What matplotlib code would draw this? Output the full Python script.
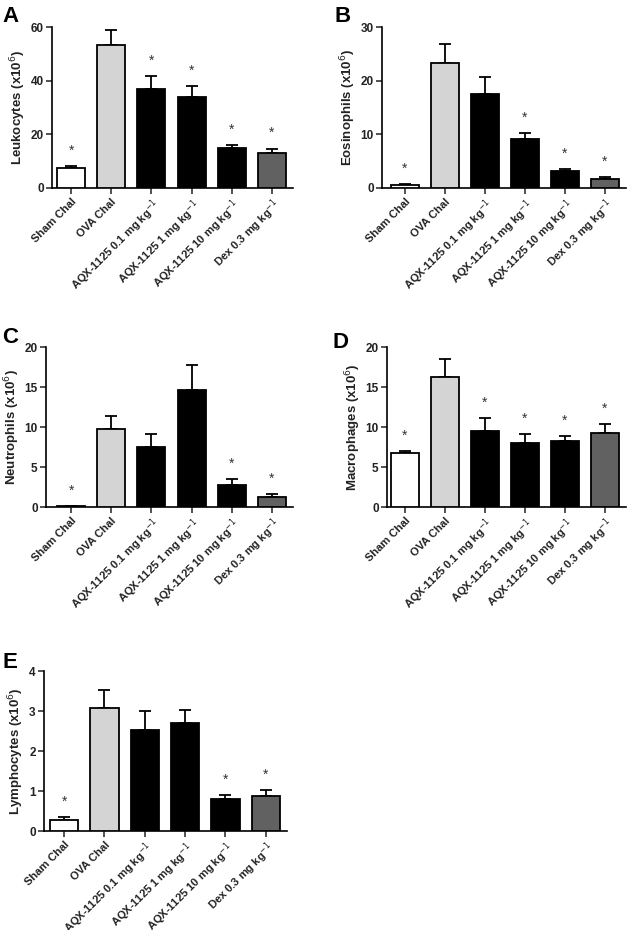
import numpy as np
import matplotlib
matplotlib.use('Agg')
import matplotlib.pyplot as plt

plt.rcParams['font.family'] = ['Liberation Sans', 'DejaVu Sans']

# Groups and bar colours
groups = ['Sham Chal', 'OVA Chal', 'AQX-1125 0.1 mg kg$^{-1}$', 'AQX-1125 1 mg kg$^{-1}$',
          'AQX-1125 10 mg kg$^{-1}$', 'Dex 0.3 mg kg$^{-1}$']
bar_colors = ['white', '#d4d4d4', 'black', 'black', 'black', '#616161']

# Mean and SEM for each cell type (x10^6)
leuko_mean = [7.5, 53.4, 36.9, 33.9, 14.9, 13.0]
leuko_sem = [0.6, 5.6, 4.7, 4.0, 1.0, 1.7]
leuko_star = [True, False, True, True, True, True]

eos_mean = [0.5, 23.3, 17.5, 9.1, 3.1, 1.6]
eos_sem = [0.3, 3.6, 3.2, 1.2, 0.5, 0.45]
eos_star = [True, False, False, True, True, True]

neut_mean = [0.1, 9.8, 7.5, 14.6, 2.7, 1.25]
neut_sem = [0.05, 1.6, 1.6, 3.2, 0.8, 0.35]
neut_star = [True, False, False, False, True, True]

macro_mean = [6.8, 16.3, 9.5, 8.0, 8.2, 9.2]
macro_sem = [0.2, 2.2, 1.6, 1.1, 0.7, 1.2]
macro_star = [True, False, True, True, True, True]

lympho_mean = [0.28, 3.07, 2.52, 2.69, 0.8, 0.88]
lympho_sem = [0.06, 0.45, 0.48, 0.33, 0.1, 0.15]
lympho_star = [True, False, False, False, True, True]

W, H = 629, 930
fig = plt.figure(figsize=(W / 100, H / 100), dpi=100)


def panel(letter, rect_px, xleft, ylabel, mean, sem, star, ymax, ystep, letter_px):
    # rect_px = (left, right, top, bottom) in pixels
    l, r, t, b = rect_px
    ax = fig.add_axes([l / W, 1 - b / H, (r - l) / W, (b - t) / H])
    x = np.arange(len(groups))
    ax.bar(x, mean, width=0.7, color=bar_colors, edgecolor='black', linewidth=1.3, zorder=3)
    ax.errorbar(x, mean, yerr=[np.zeros(len(mean)), sem], fmt='none', ecolor='black',
                elinewidth=1.3, capsize=4.5, capthick=1.3, zorder=2)
    for xi, m, s, st in zip(x, mean, sem, star):
        if st:
            ax.annotate('*', (xi, m + s), xytext=(0, 6), textcoords='offset points',
                        ha='center', va='bottom', fontsize=10, color='#333333')
    ax.set_xlim(xleft, 5.525)
    ax.set_ylim(0, ymax)
    ax.set_yticks(np.arange(0, ymax + ystep / 2, ystep))
    ax.set_xticks(x)
    ax.set_xticklabels(groups, rotation=45, ha='right', rotation_mode='anchor',
                       fontsize=8, fontweight='bold', color='#222222')
    for lab in ax.get_yticklabels():
        lab.set_fontsize(8.5)
        lab.set_fontweight('bold')
        lab.set_color('#222222')
    ax.set_ylabel(ylabel, fontsize=9.5, fontweight='bold', color='#222222', labelpad=2)
    ax.spines['top'].set_visible(False)
    ax.spines['right'].set_visible(False)
    ax.spines['left'].set_linewidth(1.2)
    ax.spines['bottom'].set_linewidth(1.2)
    ax.tick_params(axis='both', width=1.2, length=4, pad=2, color='#333333')
    fig.text(letter_px[0] / W, 1 - letter_px[1] / H, letter, fontsize=16, fontweight='bold',
             ha='left', va='baseline')
    return ax


panel('A', (52, 293, 27, 188), -0.475, 'Leukocytes (x10$^6$)', leuko_mean, leuko_sem,
      leuko_star, 60, 20, (2, 22))
panel('B', (382, 626, 27, 188), -0.575, 'Eosinophils (x10$^6$)', eos_mean, eos_sem,
      eos_star, 30, 10, (334, 22))
panel('C', (46, 293, 347, 507), -0.625, 'Neutrophils (x10$^6$)', neut_mean, neut_sem,
      neut_star, 20, 5, (2, 343))
panel('D', (387, 626, 347, 507), -0.45, 'Macrophages (x10$^6$)', macro_mean, macro_sem,
      macro_star, 20, 5, (332, 348))
panel('E', (44, 287, 671, 831), -0.5, 'Lymphocytes (x10$^6$)', lympho_mean, lympho_sem,
      lympho_star, 4, 1, (2, 668))

fig.savefig('out.png', dpi=100)
